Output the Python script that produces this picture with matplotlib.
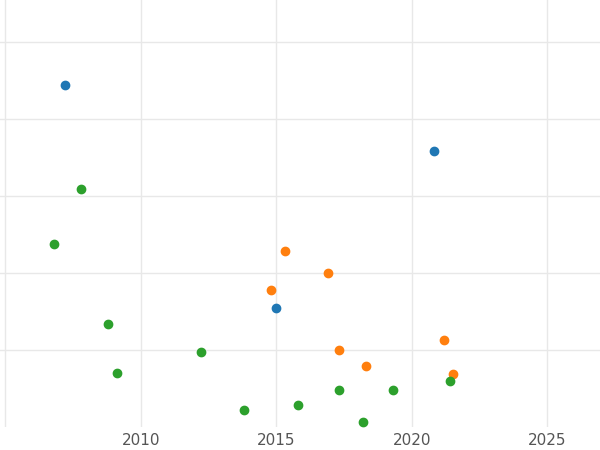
import matplotlib
matplotlib.use("Agg")
import matplotlib.pyplot as plt

blue_x = [2007.2, 2020.8, 2015.0]
blue_y = [4.44, 3.58, 1.55]
orange_x = [2015.3, 2016.9, 2014.8, 2021.2, 2017.3, 2018.3, 2021.5]
orange_y = [2.29, 2.00, 1.78, 1.13, 1.00, 0.79, 0.69]
green_x = [2007.8, 2006.8, 2008.8, 2012.2, 2009.1, 2013.8, 2015.8, 2017.3, 2019.3, 2021.4, 2018.2]
green_y = [3.09, 2.38, 1.34, 0.97, 0.70, 0.22, 0.29, 0.48, 0.48, 0.60, 0.06]
xticks = [2010, 2015, 2020, 2025]

fig = plt.figure(figsize=(6, 4.5), dpi=100)
ax = fig.add_axes([0, 23/450, 1, 427/450])
ax.scatter(blue_x, blue_y, color="#1f77b4", s=36, zorder=3)
ax.scatter(orange_x, orange_y, color="#ff7f0e", s=36, zorder=3)
ax.scatter(green_x, green_y, color="#2ca02c", s=36, zorder=3)
ax.set_xlim(2004.8, 2026.94)
ax.set_ylim(0, 427/77)
ax.set_xticks([2005] + xticks)
ax.set_xticklabels([""] + [str(t) for t in xticks])
ax.set_yticks([1, 2, 3, 4, 5])
ax.set_yticklabels([])
ax.grid(True, color="#e8e8e8", linewidth=1)
ax.set_axisbelow(True)
for s in ax.spines.values():
    s.set_visible(False)
ax.tick_params(length=0, labelsize=11, labelcolor="#555555", pad=4)
fig.savefig("out.png", dpi=100)
